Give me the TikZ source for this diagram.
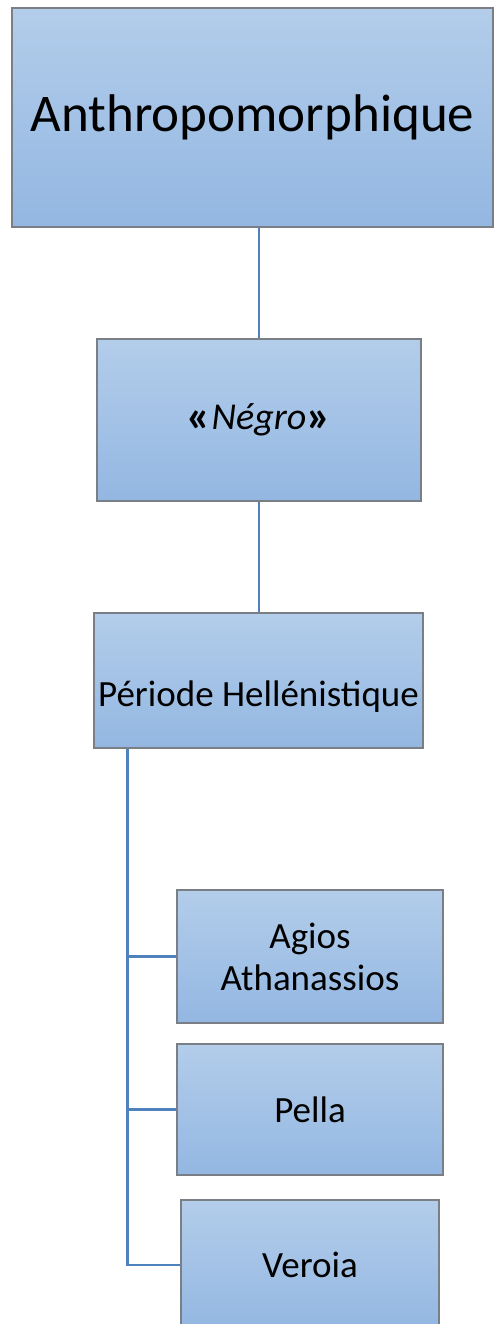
\documentclass[tikz,border=0pt]{standalone}
\usepackage{fontspec}
\setmainfont{Carlito}
\newcommand{\bigguil}[1]{{\fontsize{46}{44}\selectfont\bfseries\raisebox{-2pt}{#1}}}
\begin{document}
\begin{tikzpicture}[x=1pt,y=-1pt,
  box/.style={rectangle, draw=boxedge, line width=1.2pt, top color=boxtop, bottom color=boxbot,
    inner sep=0pt, align=center, text=black, font=\fontsize{37}{42}\selectfont},
  link/.style={draw=linkblue, line width=2.4pt}]
\definecolor{boxtop}{HTML}{B3CDEA}
\definecolor{boxbot}{HTML}{93B7E2}
\definecolor{boxedge}{HTML}{7A7F86}
\definecolor{linkblue}{HTML}{4F81BD}
\useasboundingbox (0,0) rectangle (494,1324);
\begin{scope}
\clip (0,0) rectangle (494,1324);
% top-level box
\node[box, minimum width=481pt, minimum height=219pt, font=\fontsize{53}{64}\selectfont]
  (anthro) at (252.5,117.5) {Anthropomorphique};
% second level
\node[box, minimum width=324pt, minimum height=162pt, font=\fontsize{38}{44}\selectfont]
  (negro) at (259,420) {\bigguil{«}\textit{Négro}\bigguil{»}};
% third level, its text sits below the middle
\node[box, minimum width=329pt, minimum height=135pt, text height=52pt, text depth=0pt]
  (hellen) at (258.5,680.5) {Période Hellénistique};
% leaves
\node[box, minimum width=266pt, minimum height=133pt] (agios) at (310,956.5) {Agios\\Athanassios};
\node[box, minimum width=266pt, minimum height=131pt] (pella) at (310,1109.5) {Pella};
\node[box, minimum width=258pt, minimum height=130pt] (veroia) at (310,1265) {Veroia};
% connectors
\coordinate (spine) at (127.5,748);
\draw[link] (negro.north) -- (negro.north |- anthro.south);
\draw[link] (hellen.north -| negro.south) -- (negro.south);
\draw[link] (hellen.south -| spine) |- (veroia.west);
\draw[link] (agios.west) -- (agios.west -| spine);
\draw[link] (pella.west) -- (pella.west -| spine);
\end{scope}
\end{tikzpicture}
\end{document}
